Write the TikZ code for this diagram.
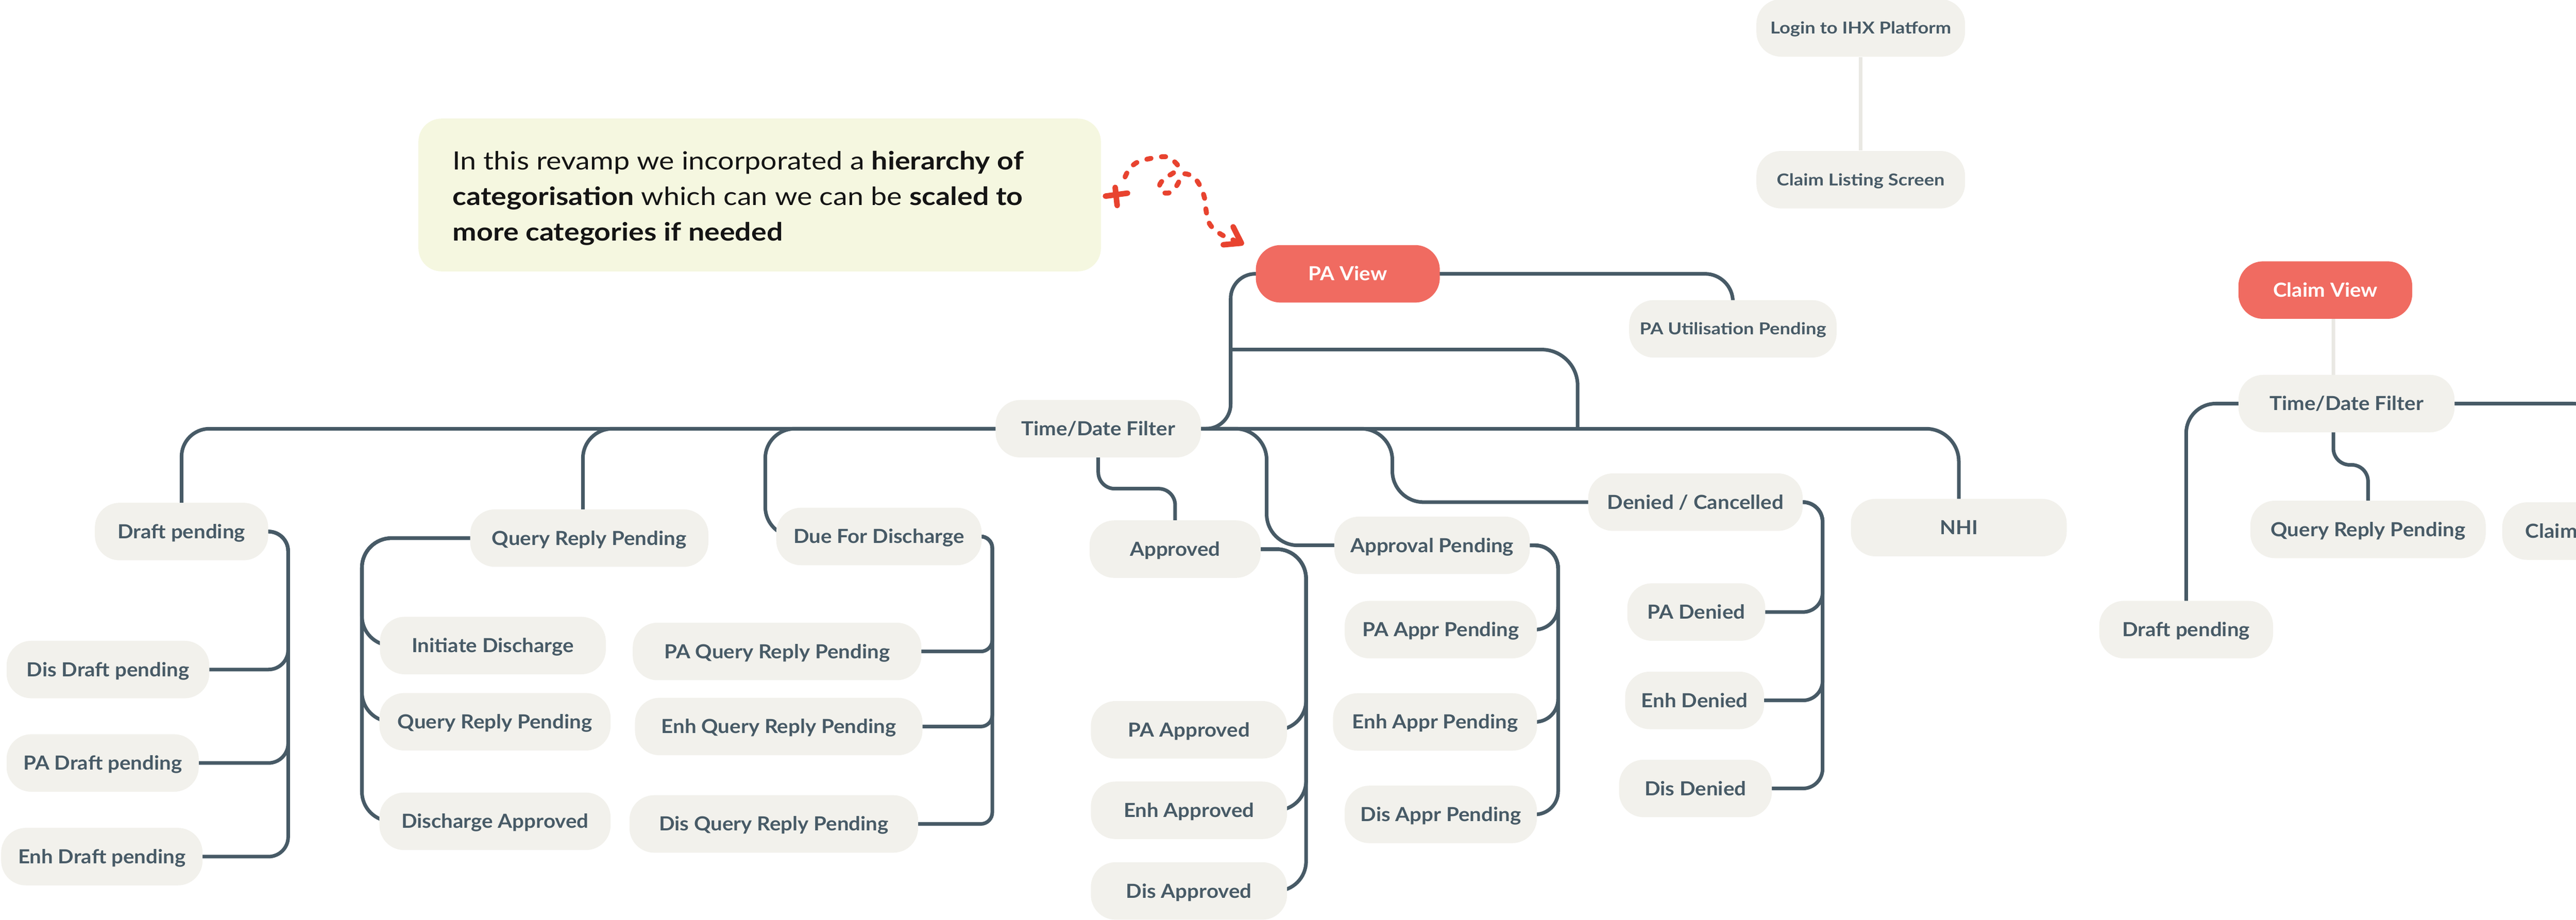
\documentclass[tikz,border=0pt]{standalone}
\usepackage{fontspec}
\setmainfont{Lato}
\newfontfamily\nodefam{Lato}[FakeStretch=1.07]
\newfontfamily\smallfam{Lato}[FakeStretch=1.14]
\newfontfamily\notefam{Lato}[FakeStretch=1.14]
\pgfdeclarelayer{bg}
\pgfsetlayers{bg,main}
\definecolor{nodefill}{HTML}{F2F1EC}
\definecolor{txt}{HTML}{475A66}
\definecolor{lc}{HTML}{475A66}
\definecolor{redn}{HTML}{F06B61}
\definecolor{notefill}{HTML}{F5F7E0}
\definecolor{redd}{HTML}{E8432F}
\definecolor{lightl}{HTML}{E9E8E3}
\definecolor{notetxt}{HTML}{141414}
\newcommand{\nfont}{\nodefam\fontsize{11.8pt}{14pt}\selectfont\bfseries}
\newcommand{\sfont}{\smallfam\fontsize{10pt}{12pt}\selectfont\bfseries}
\newcommand{\notefont}{\notefam\fontsize{15.3pt}{21.7pt}\selectfont}
\begin{document}
\begin{tikzpicture}[x=1pt,y=-1pt,
  box/.style={fill=nodefill, rounded corners=15pt, minimum height=35pt, inner sep=0pt, text=txt, font=\nfont, text height=8.4pt, text depth=0pt},
  sbox/.style={box, font=\sfont, text height=7.2pt},
  rbox/.style={box, fill=redn, text=white},
  conn/.style={draw=lc, line width=2.2pt},
  lconn/.style={draw=lightl, line width=2.2pt},
  redline/.style={draw=redd, line width=3.4pt, line cap=round, line join=round}]
\useasboundingbox (0,0) rectangle (1568,559.8);
\clip (0,0) rectangle (1568,559.8);

% annotation
\node[fill=notefill, rounded corners=14pt, minimum width=415.4pt, minimum height=93pt, inner sep=0pt] (note) at (462.4,118.7) {};
\node[anchor=base west, align=left, font=\notefont, text=notetxt, inner sep=0pt] (notetext) at (275.3,146.6)
  {In this revamp we incorporated a \textbf{hierarchy of}\\
   \textbf{categorisation} which can we can be \textbf{scaled to}\\
   \textbf{more categories if needed}};

% nodes
\node[sbox, minimum width=127pt] (login) at (1132.6,17) {Login to IHX Platform};
\node[sbox, minimum width=127pt] (listing) at (1132.6,109.4) {Claim Listing Screen};
\node[rbox, minimum width=112pt] (paview) at (820.4,166.7) {PA View};
\node[sbox, minimum width=126.3pt] (pautil) at (1054.8,200.2) {PA Utilisation Pending};
\node[box, minimum width=125pt] (tdf) at (668.5,261) {Time/Date Filter};
\node[box, minimum width=105.5pt] (draft) at (110.5,323.6) {Draft pending};
\node[box, minimum width=145pt] (qrp) at (358.7,327.6) {Query Reply Pending};
\node[box, minimum width=125pt] (dfd) at (535,326.6) {Due For Discharge};
\node[box, minimum width=137.5pt] (initd) at (300,393) {Initiate Discharge};
\node[box, minimum width=140.7pt] (qrp2) at (301.3,439.4) {Query Reply Pending};
\node[box, minimum width=140.7pt] (dischapp) at (301.3,500) {Discharge Approved};
\node[box, minimum width=175.7pt] (paqrp) at (473,396.6) {PA Query Reply Pending};
\node[box, minimum width=175pt] (enhqrp) at (474,442.3) {Enh Query Reply Pending};
\node[box, minimum width=175.7pt] (disqrp) at (471,501.6) {Dis Query Reply Pending};
\node[box, minimum width=123.4pt] (disdraft) at (65.7,407.6) {Dis Draft pending};
\node[box, minimum width=117pt] (padraft) at (62.5,464.5) {PA Draft pending};
\node[box, minimum width=122.6pt] (enhdraft) at (62,521.5) {Enh Draft pending};
\node[box, minimum width=104.2pt] (approved) at (715.3,334.3) {Approved};
\node[box, minimum width=119.4pt] (paapp) at (723.7,444.3) {PA Approved};
\node[box, minimum width=119.4pt] (enhapp) at (723.7,493.3) {Enh Approved};
\node[box, minimum width=119.4pt] (disapp) at (723.7,542.4) {Dis Approved};
\node[box, minimum width=119pt] (apppend) at (871.7,332) {Approval Pending};
\node[box, minimum width=117pt] (paapppend) at (877,383.3) {PA Appr Pending};
\node[box, minimum width=124.2pt] (enhapppend) at (873.5,439.5) {Enh Appr Pending};
\node[box, minimum width=117pt] (disapppend) at (877,495.8) {Dis Appr Pending};
\node[box, minimum width=130.6pt] (denied) at (1032,305.7) {Denied / Cancelled};
\node[box, minimum width=84pt] (padenied) at (1032.5,372.6) {PA Denied};
\node[box, minimum width=84.6pt] (enhdenied) at (1031.5,426.4) {Enh Denied};
\node[box, minimum width=93pt] (disdenied) at (1032,480) {Dis Denied};
\node[box, minimum width=131.4pt] (nhi) at (1192.3,321.2) {NHI};
\node[rbox, minimum width=105.8pt] (claimview) at (1415.4,176.6) {Claim View};
\node[box, minimum width=131.5pt] (ctdf) at (1428.3,245.7) {Time/Date Filter};
\node[box, minimum width=143.3pt] (cqrp) at (1441.4,322.3) {Query Reply Pending};
\node[box, minimum width=105.8pt] (cdraft) at (1330.7,383.3) {Draft pending};
\node[box, anchor=west, text width=100pt, align=left, inner xsep=14.1pt] (cclaim) at (1522.9,323.3) {Claim};

% red hand-drawn annotation arrow
\coordinate (arrtip) at (755.6,148);
\draw[redline, line width=3pt, dash pattern=on 2.6pt off 6.4pt] plot[smooth, tension=0.55] coordinates {
  (684.8,107.7) (687.6,102.6) (692.8,98.5) (701.8,96.2) (710.2,95.5) (715.7,99.2) (717.4,102.6)
  (713.7,105.6) (708.9,108.6) (705.8,112.8) (707.4,116.9) (711.9,117.3) (716.2,113.1) (718.7,108.3)
  (721.2,105.8) (726.7,107.9) (730.7,113.6) (733.2,120.6) (734.2,128.6) (735.9,135.6) (739.6,140.1)
  (745.6,144.0) (752.5,146.8)};
\draw[redline] (750.6,138.1) -- (arrtip) -- (744.6,149);
\draw[redline] (672.9,119.4) -- (686.3,117.6);
\draw[redline] (678.8,114.1) -- (680,125.1);

\begin{pgfonlayer}{bg}
\clip (0,0) rectangle (1568,559.8);
\coordinate (j1) at (749.1,212.8);
\coordinate (j2) at (960.3,261);
\coordinate (coff) at (1584,340);
% light links
\draw[lconn] (login) -- (listing);
\draw[lconn] ([xshift=4.9pt]claimview.center) -- ([xshift=-8pt]ctdf.center);
% PA view
\draw[conn, rounded corners=17pt] (paview.center) -| (pautil.center);
\draw[conn, rounded corners=15pt] (paview.center) -| (j1) |- (tdf.center);
\draw[conn, rounded corners=22pt] (j1) -| (j2);
% main bar
\draw[conn, rounded corners=20pt] (tdf.center) -| (nhi.center);
\draw[conn, rounded corners=17pt] (tdf.center) -| (draft.center);
\draw[conn, rounded corners=18pt] (tdf.center) -| ([xshift=-3.9pt]qrp.center);
\draw[conn] (tdf.center) [rounded corners=18pt] -- (465.8,261) -- (465.8,326.6) [rounded corners=8pt] -- (dfd.center);
\draw[conn, rounded corners=10pt] (tdf.center) -- (668.5,297.5) -- (715.3,297.5) -- (approved.center);
\draw[conn] (tdf.center) [rounded corners=19pt] -- (771,261) -- (771,332) [rounded corners=18pt] -- (apppend.center);
\draw[conn] (tdf.center) [rounded corners=19pt] -- (847.5,261) -- (847.5,305.7) [rounded corners=18pt] -- (denied.center);
% draft children
\draw[conn] (draft.center) [rounded corners=12pt] -- (175.4,323.6) -- (175.4,407.6) [rounded corners=18pt] -- (disdraft.center);
\draw[conn] (draft.center) [rounded corners=12pt] -- (175.4,323.6) -- (175.4,464.5) [rounded corners=18pt] -- (padraft.center);
\draw[conn] (draft.center) [rounded corners=12pt] -- (175.4,323.6) -- (175.4,521.5) [rounded corners=18pt] -- (enhdraft.center);
% query reply children
\draw[conn] (qrp.center) [rounded corners=18pt] -- (220.3,327.6) -- (220.3,393) [rounded corners=10pt] -- (initd.center);
\draw[conn] (qrp.center) [rounded corners=18pt] -- (220.3,327.6) -- (220.3,439.4) [rounded corners=10pt] -- (qrp2.center);
\draw[conn] (qrp.center) [rounded corners=18pt] -- (220.3,327.6) -- (220.3,500) [rounded corners=10pt] -- (dischapp.center);
% due for discharge children
\draw[conn] (dfd.center) [rounded corners=7pt] -- (604,326.6) -- (604,396.6) [rounded corners=16pt] -- (paqrp.center);
\draw[conn] (dfd.center) [rounded corners=7pt] -- (604,326.6) -- (604,442.3) [rounded corners=16pt] -- (enhqrp.center);
\draw[conn] (dfd.center) [rounded corners=7pt] -- (604,326.6) -- (604,501.6) [rounded corners=16pt] -- (disqrp.center);
% approved children
\draw[conn] (approved.center) [rounded corners=18pt] -- (795,334.3) -- (795,444.3) [rounded corners=10pt] -- (paapp.center);
\draw[conn] (approved.center) [rounded corners=18pt] -- (795,334.3) -- (795,493.3) [rounded corners=10pt] -- (enhapp.center);
\draw[conn] (approved.center) [rounded corners=18pt] -- (795,334.3) -- (795,542.4) [rounded corners=10pt] -- (disapp.center);
% approval pending children
\draw[conn] (apppend.center) [rounded corners=14pt] -- (948.4,332) -- (948.4,383.3) [rounded corners=10pt] -- (paapppend.center);
\draw[conn] (apppend.center) [rounded corners=14pt] -- (948.4,332) -- (948.4,439.5) [rounded corners=10pt] -- (enhapppend.center);
\draw[conn] (apppend.center) [rounded corners=14pt] -- (948.4,332) -- (948.4,495.8) [rounded corners=10pt] -- (disapppend.center);
% denied children
\draw[conn] (denied.center) [rounded corners=12pt] -- (1109.4,305.7) -- (1109.4,372.6) [rounded corners=18pt] -- (padenied.center);
\draw[conn] (denied.center) [rounded corners=12pt] -- (1109.4,305.7) -- (1109.4,426.4) [rounded corners=18pt] -- (enhdenied.center);
\draw[conn] (denied.center) [rounded corners=12pt] -- (1109.4,305.7) -- (1109.4,480) [rounded corners=18pt] -- (disdenied.center);
% claim view tree
\draw[conn, rounded corners=18pt] (ctdf.center) -| (cdraft.center);
\draw[conn, rounded corners=18pt] (ctdf.center) -| (coff);
\draw[conn, rounded corners=10pt] ([xshift=-8pt]ctdf.center) -- ++(0,37.3) -| (cqrp.center);
\end{pgfonlayer}
\end{tikzpicture}
\end{document}
